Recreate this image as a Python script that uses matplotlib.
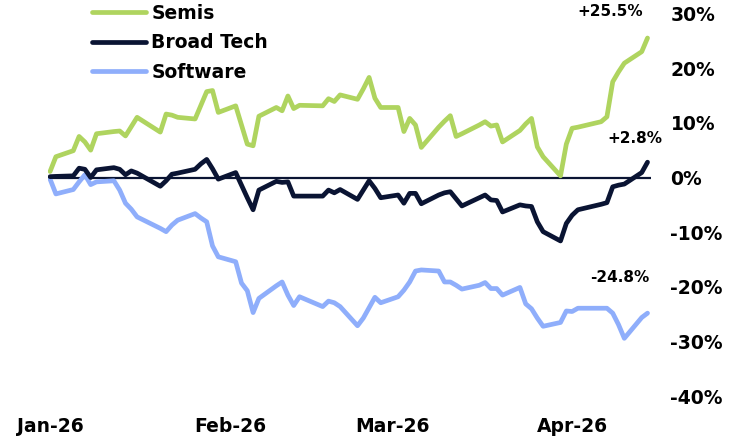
import pandas as pd
import matplotlib
matplotlib.use('Agg')
import matplotlib.pyplot as plt
import matplotlib.dates as mdates
from matplotlib.ticker import FuncFormatter

# trading days (cumulative % return since start of year)
dates = ['2026-01-01', '2026-01-02', '2026-01-05', '2026-01-06', '2026-01-07', '2026-01-08', '2026-01-09',
         '2026-01-12', '2026-01-13', '2026-01-14', '2026-01-15', '2026-01-16', '2026-01-20', '2026-01-21',
         '2026-01-22', '2026-01-23', '2026-01-26', '2026-01-27', '2026-01-28', '2026-01-29', '2026-01-30',
         '2026-02-02', '2026-02-03', '2026-02-04', '2026-02-05', '2026-02-06', '2026-02-09', '2026-02-10',
         '2026-02-11', '2026-02-12', '2026-02-13', '2026-02-17', '2026-02-18', '2026-02-19', '2026-02-20',
         '2026-02-23', '2026-02-24', '2026-02-25', '2026-02-26', '2026-02-27',
         '2026-03-02', '2026-03-03', '2026-03-04', '2026-03-05', '2026-03-06', '2026-03-09', '2026-03-10',
         '2026-03-11', '2026-03-12', '2026-03-13', '2026-03-16', '2026-03-17', '2026-03-18', '2026-03-19',
         '2026-03-20', '2026-03-23', '2026-03-24', '2026-03-25', '2026-03-26', '2026-03-27', '2026-03-30',
         '2026-03-31', '2026-04-01', '2026-04-02', '2026-04-06', '2026-04-07', '2026-04-08', '2026-04-09',
         '2026-04-10', '2026-04-13', '2026-04-14']

semis = [1.1, 3.8, 4.9, 7.5, 6.5, 5.0, 8.0, 8.4, 8.5, 7.6, 9.3, 11.0, 8.3, 11.6, 11.4, 11.0, 10.7, 13.2, 15.7, 15.9, 11.9,
         13.1, 9.6, 6.1, 5.8, 11.2, 12.8, 12.2, 14.9, 12.6, 13.2, 13.1, 14.4, 13.9, 15.1, 14.3, 16.2, 18.3, 14.5, 12.8,
         12.8, 8.4, 10.8, 9.6, 5.5, 9.2, 10.3, 11.3, 7.5, 8.0, 9.6, 10.2, 9.4, 9.6, 6.5, 8.6, 9.8, 10.8, 5.6, 3.8, 0.3, 6.1,
         9.0, 9.2, 10.2, 11.1, 17.5, 19.3, 20.9, 23.0, 25.5]

broad_tech = [0.15, 0.2, 0.3, 1.7, 1.5, 0.0, 1.4, 1.8, 1.5, 0.5, 1.2, 0.8, -1.6, -0.6, 0.6, 0.8, 1.5, 2.5, 3.3, 1.6, -0.3,
              0.9, -1.4, -3.7, -5.9, -2.3, -0.7, -0.9, -0.8, -3.4, -3.4, -3.4, -2.3, -2.8, -2.2, -4.0, -2.3, -0.6, -2.0, -3.7,
              -3.2, -4.7, -2.9, -2.9, -4.8, -3.2, -2.8, -2.6, -3.9, -5.2, -3.7, -3.2, -4.1, -4.2, -6.3, -5.0, -5.2, -5.3,
              -8.1, -9.9, -11.6, -8.4,
              -6.9, -5.9, -4.9, -4.6, -1.7, -1.4, -1.2, 0.9, 2.8]

software = [-0.3, -3.0, -2.2, -0.8, 0.5, -1.3, -0.8, -0.6, -2.3, -4.7, -5.8, -7.2, -9.3, -9.9, -8.7, -7.8, -6.6, -7.4, -8.1,
            -12.5, -14.5,
            -15.4, -19.3, -20.7, -24.7, -22.1, -19.8, -19.1, -21.5, -23.4, -21.8, -23.6, -22.6, -22.9, -23.6, -27.1, -25.7,
            -23.8, -21.9, -22.9,
            -21.8, -20.6, -19.1, -17.1, -16.9, -17.1, -19.1, -19.1, -19.7, -20.4, -19.7, -19.2, -20.3, -20.3, -21.5, -20.1,
            -23.1, -24.0, -25.7, -27.2, -26.5, -24.4,
            -24.5, -23.9, -23.9, -23.9, -24.8, -26.9, -29.4, -25.6, -24.8]

month_ticks = ['2026-01-01', '2026-02-01', '2026-03-01', '2026-04-01']
end_labels = ['+25.5%', '+2.8%', '-24.8%']

GREEN = '#AFD45F'
NAVY = '#0A1433'
BLUE = '#8FAEFB'

plt.rcParams['font.family'] = 'DejaVu Sans'
plt.rcParams['font.weight'] = 'bold'

x = pd.to_datetime(dates)

fig = plt.figure(figsize=(7.3, 4.37), dpi=100)
ax = fig.add_axes([48 / 730, 1 - 396.3 / 437, (651 - 48) / 730, (396.3 - 13.4) / 437])

ax.axhline(0, color=NAVY, lw=1.6, zorder=1)
l_soft, = ax.plot(x, software, color=BLUE, lw=3.4, solid_capstyle='round', solid_joinstyle='round', zorder=2)
l_bt, = ax.plot(x, broad_tech, color=NAVY, lw=3.4, solid_capstyle='round', solid_joinstyle='round', zorder=3)
l_semi, = ax.plot(x, semis, color=GREEN, lw=3.4, solid_capstyle='round', solid_joinstyle='round', zorder=4)

# end-of-series labels
for line, vals, lab, off in [(l_semi, semis, end_labels[0], (-27, 19)),
                             (l_bt, broad_tech, end_labels[1], (-9, 17)),
                             (l_soft, software, end_labels[2], (-20, 26))]:
    ax.annotate(lab, xy=(x[-1], vals[-1]), xytext=off, textcoords='offset points',
                ha='center', va='center', fontsize=11, fontweight='bold', color='black')

left = mdates.date2num(pd.Timestamp('2026-01-01')) - 0.36
right = mdates.date2num(pd.Timestamp('2026-04-14')) + 0.6
ax.set_xlim(left, right)
ax.set_ylim(-40, 30)
ax.set_yticks(range(-40, 31, 10))
ax.yaxis.set_major_formatter(FuncFormatter(lambda v, p: '{:.0f}%'.format(v)))
ax.yaxis.tick_right()
ax.set_xticks(pd.to_datetime(month_ticks))
ax.xaxis.set_major_formatter(mdates.DateFormatter('%b-%y'))
ax.tick_params(axis='y', length=0, pad=14, labelsize=13.5)
ax.tick_params(axis='x', length=0, pad=15, labelsize=13.5)
for s in ax.spines.values():
    s.set_visible(False)

fig.legend([l_semi, l_bt, l_soft], ['Semis', 'Broad Tech', 'Software'],
           loc='upper left', bbox_to_anchor=(92 / 730, 1 - 4 / 437), frameon=False,
           borderpad=0, borderaxespad=0, handlelength=2.9, handletextpad=0.27,
           labelspacing=0.55, prop={'size': 13.5, 'weight': 'bold'})

plt.savefig('out.png', dpi=100)
